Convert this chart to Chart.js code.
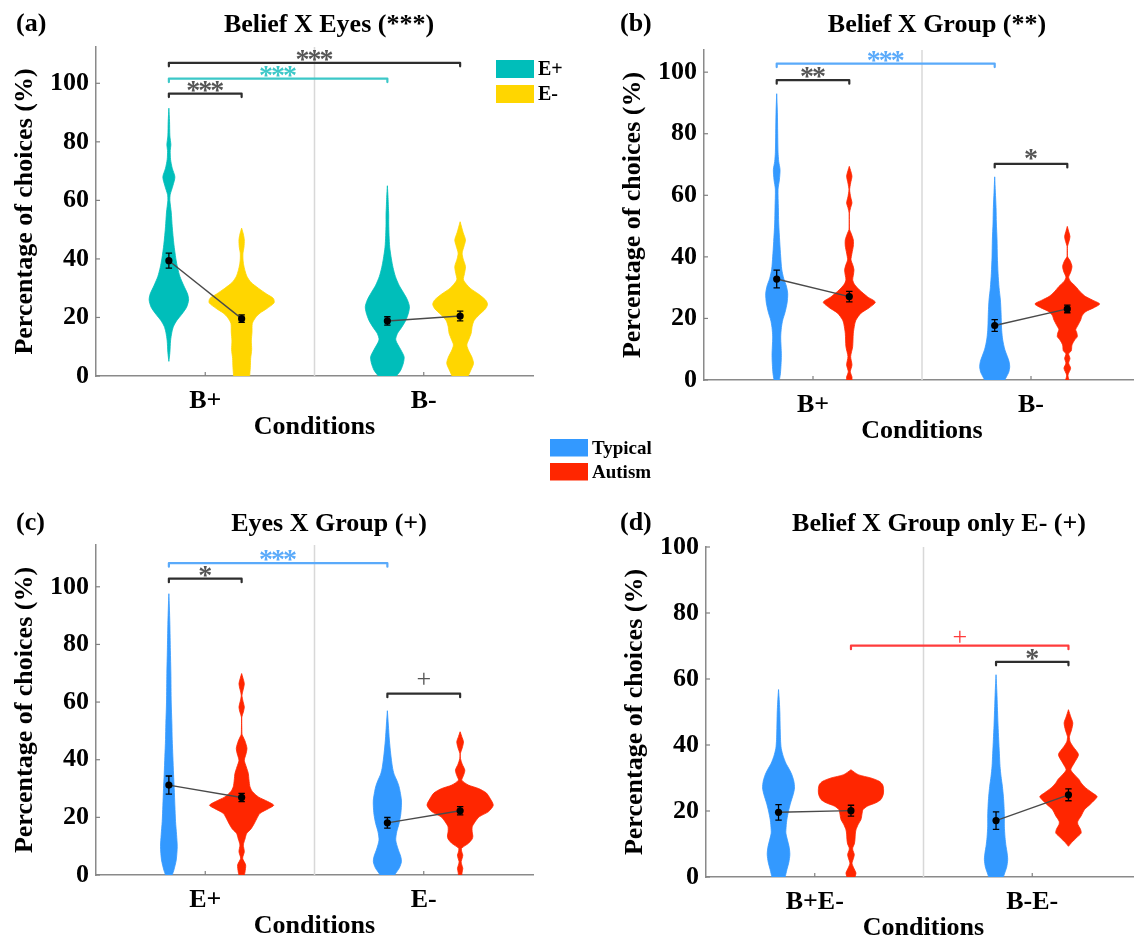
<!DOCTYPE html>
<html>
<head>
<meta charset="utf-8">
<script src="https://cdn.jsdelivr.net/npm/chart.js@4.4.1/dist/chart.umd.min.js"></script>
<style>
html,body{margin:0;padding:0;background:#fff;overflow:hidden;width:1134px;height:939px;}
canvas{position:absolute;left:0;top:0;}
</style>
</head>
<body>
<canvas id="cA" width="1160" height="939"></canvas>
<canvas id="cB" width="1160" height="939"></canvas>
<canvas id="cC" width="1160" height="939"></canvas>
<canvas id="cD" width="1160" height="939"></canvas>
<script>
// ---------------- DATA ----------------
const panelLabels = ['(a)', '(b)', '(c)', '(d)'];
const panelTitles = ['Belief X Eyes (***)', 'Belief X Group (**)', 'Eyes X Group (+)', 'Belief X Group only E- (+)'];
const categoriesA = ['B+', 'B-'];
const categoriesB = ['B+', 'B-'];
const categoriesC = ['E+', 'E-'];
const categoriesD = ['B+E-', 'B-E-'];
const yTickValues = [0, 20, 40, 60, 80, 100];
const xAxisTitle = 'Conditions';
const yAxisTitle = 'Percentage of choices (%)';
const legendEyes = ['E+', 'E-'];
const legendGroup = ['Typical', 'Autism'];

// means and error (SEM) per violin: [cond1-grp1, cond1-grp2, cond2-grp1, cond2-grp2]
const meansA = [39.4, 19.6, 18.8, 20.5];
const semA   = [2.55, 1.3, 1.45, 1.65];
const meansB = [32.8, 27.1, 17.7, 23.1];
const semB   = [2.9, 1.7, 1.9, 1.25];
const meansC = [31.2, 26.9, 18.1, 22.3];
const semC   = [3.15, 1.45, 1.85, 1.45];
const meansD = [19.6, 20.1, 17.1, 24.9];
const semD   = [2.35, 1.65, 2.65, 1.8];

// significance brackets: [fromViolin, toViolin, level (%), label, colourKey]
const bracketsA = [[0, 3, 107, '***', 'k'], [0, 2, 101.6, '***', 'teal'], [0, 1, 96.5, '***', 'k']];
const bracketsB = [[0, 2, 102.8, '***', 'blue'], [0, 1, 97.4, '**', 'k'], [2, 3, 70.2, '*', 'k']];
const bracketsC = [[0, 2, 108.2, '***', 'blue'], [0, 1, 102.8, '*', 'k'], [2, 3, 62.9, '+', 'k']];
const bracketsD = [[1, 3, 70.1, '+', 'red'], [2, 3, 65.2, '*', 'k']];

// violin density profiles: [percentage, relative density]
const violinA_BpEp = [[5,0],[8,0.03],[12,0.05],[15,0.09],[17,0.14],[19,0.24],[21,0.38],[23.5,0.53],[26,0.59],[28,0.56],[31,0.44],[34,0.33],[37,0.26],[40,0.21],[45,0.15],[51,0.1],[56,0.07],[60,0.03],[62,0.04],[65,0.12],[68,0.18],[71,0.1],[74,0.05],[77,0.04],[79,0.06],[82,0.03],[87,0.02],[91.5,0]];
const violinA_BpEm = [[0,0.24],[3,0.26],[6,0.27],[9,0.3],[12,0.29],[15,0.31],[18,0.32],[20,0.42],[21.5,0.55],[23,0.75],[25,0.97],[26.5,0.95],[28,0.75],[30,0.5],[32,0.28],[34,0.16],[36,0.1],[38,0.06],[40,0.04],[42,0.04],[44,0.07],[46.5,0.08],[48.5,0.05],[50.5,0]];
const violinA_BmEp = [[0,0.27],[2,0.4],[4.5,0.48],[6.6,0.5],[9,0.4],[12.3,0.25],[14.5,0.3],[16.5,0.42],[19,0.55],[21.5,0.63],[23.7,0.66],[26,0.6],[28.5,0.48],[31,0.35],[34,0.24],[37,0.17],[40,0.12],[44,0.07],[48,0.05],[52,0.04],[55,0.04],[58,0.03],[61,0.02],[65,0]];
const violinA_BmEm = [[0,0.24],[2,0.32],[4.3,0.4],[6.5,0.35],[8.5,0.26],[10.6,0.2],[12.5,0.26],[14.6,0.33],[17,0.36],[19,0.42],[21,0.58],[23,0.76],[24.5,0.82],[26,0.76],[28,0.55],[30,0.3],[32.8,0.1],[35,0.13],[37.4,0.16],[40,0.09],[42,0.06],[44.5,0.12],[46.5,0.16],[49,0.09],[52.7,0]];

const violinB_BpTy = [[0,0.08],[2,0.11],[5,0.13],[8,0.14],[11,0.13],[14,0.12],[17,0.14],[19.5,0.18],[22,0.25],[25,0.31],[28,0.33],[30.5,0.29],[33,0.21],[36,0.15],[40,0.12],[45,0.09],[51,0.06],[56,0.05],[62,0.04],[65,0.08],[68.3,0.1],[71,0.06],[74,0.04],[80,0.03],[87,0.02],[93,0]];
const violinB_BpAu = [[0,0.08],[1,0.08],[2.7,0.03],[4.9,0.08],[7.6,0.04],[10.8,0.1],[15.2,0.12],[18,0.16],[19.5,0.2],[21.7,0.35],[23.5,0.6],[25.3,0.78],[27,0.55],[29.3,0.3],[31,0.16],[32.5,0.1],[34,0.12],[35.8,0.14],[37.5,0.1],[39,0.05],[41.2,0.08],[43.5,0.12],[45.5,0.12],[47.5,0.06],[48.8,0.01],[50,0.002],[54.2,0.004],[56,0.04],[57.5,0.08],[59.5,0.04],[61.8,0.01],[64,0.04],[66.2,0.08],[68,0.04],[69.4,0]];
const violinB_BmTy = [[0,0.3],[1,0.35],[2.5,0.42],[4.3,0.45],[6,0.43],[7.6,0.38],[10,0.3],[13,0.24],[16,0.21],[18.4,0.2],[22,0.19],[26,0.17],[30,0.13],[34.7,0.1],[40,0.08],[45.5,0.07],[51,0.05],[56,0.04],[61,0.02],[66,0]];
const violinB_BmAu = [[0,0.05],[1.6,0.02],[3.8,0.1],[5.5,0.04],[7,0.08],[8.5,0.04],[9.5,0.12],[11.4,0.14],[13,0.22],[14.1,0.3],[15.5,0.28],[16.3,0.25],[18,0.33],[19.5,0.4],[21,0.45],[22.2,0.55],[23.5,0.8],[24.7,0.97],[26,0.75],[27.1,0.55],[28.5,0.4],[30.4,0.25],[32,0.1],[33.4,0.04],[35,0.1],[36.9,0.14],[38.8,0.08],[40,0.01],[42,0.003],[43.4,0.005],[45,0.05],[46.6,0.08],[48.3,0.04],[49.9,0]];

const violinC_EpTy = [[0,0.1],[1.7,0.15],[5.2,0.22],[9.8,0.25],[14,0.23],[18.5,0.2],[24,0.18],[30,0.16],[35,0.14],[41,0.12],[47,0.1],[52.5,0.09],[60,0.07],[70,0.06],[78,0.045],[87,0.03],[93,0.015],[97.6,0]];
const violinC_EpAu = [[0,0.08],[1,0.1],[3.5,0.12],[5.8,0.03],[8.1,0.08],[10.4,0.05],[12.5,0.1],[14.4,0.15],[16,0.28],[17.9,0.38],[19.5,0.45],[21.4,0.55],[23,0.8],[24.2,0.96],[25.5,0.78],[27.1,0.5],[29,0.32],[30.6,0.25],[33,0.22],[35.2,0.2],[37.5,0.14],[39.8,0.08],[42,0.13],[43.9,0.16],[46.5,0.1],[48.5,0.02],[49,0.01],[52,0.004],[54.8,0.005],[56.5,0.05],[58.3,0.08],[60.3,0.04],[62.4,0.01],[64.5,0.05],[66.4,0.08],[68.3,0.04],[69.9,0]];
const violinC_EmTy = [[0,0.22],[0.6,0.25],[2.5,0.36],[4.6,0.42],[6.4,0.4],[9,0.32],[12.1,0.25],[15,0.28],[17.9,0.35],[21,0.4],[24,0.42],[26,0.42],[29,0.38],[31,0.34],[32.9,0.28],[35,0.2],[37.5,0.15],[42,0.1],[46.8,0.06],[52,0.03],[57,0]];
const violinC_EmAu = [[0,0.05],[1,0.06],[2.3,0.08],[3.5,0.05],[4.6,0.03],[5.8,0.06],[6.9,0.08],[8,0.05],[9.2,0.04],[10.2,0.15],[11,0.25],[12.5,0.36],[13.5,0.38],[15,0.36],[16.7,0.36],[18.5,0.45],[20.2,0.57],[22,0.85],[24.2,0.99],[26.5,0.9],[28.5,0.78],[30,0.55],[31.2,0.25],[32.9,0.05],[34.5,0.1],[36.4,0.14],[38.5,0.06],[40.4,0.01],[42.1,0.005],[44,0.06],[46.2,0.1],[48,0.05],[49.7,0]];

const violinD_BpTy = [[0,0.2],[2.2,0.25],[4.5,0.31],[6.8,0.34],[9,0.32],[11.5,0.26],[13.3,0.22],[15.5,0.23],[17.4,0.25],[20,0.3],[22.4,0.36],[25,0.44],[27,0.48],[29,0.46],[31,0.4],[32.5,0.33],[34.5,0.22],[36.6,0.14],[39,0.08],[41.6,0.06],[45,0.05],[49.7,0.04],[53,0.025],[56.8,0]];
const violinD_BpAu = [[0,0.12],[1.2,0.15],[2.8,0.08],[4.2,0.03],[5.5,0.07],[6.8,0.1],[8,0.06],[8.8,0.05],[10,0.1],[11.3,0.12],[13,0.13],[14.3,0.15],[16,0.22],[17.4,0.3],[19,0.33],[20.4,0.36],[21.5,0.5],[22.5,0.75],[23.5,0.9],[25,0.97],[26.5,0.98],[28,0.95],[29,0.85],[30,0.6],[31,0.22],[32.5,0]];
const violinD_BmTy = [[0,0.22],[1.2,0.26],[3,0.32],[5.3,0.35],[7.5,0.33],[9.3,0.3],[12,0.27],[15.4,0.25],[18.5,0.25],[21.4,0.24],[24.5,0.22],[27.5,0.19],[30.5,0.15],[33.5,0.12],[37.5,0.1],[41.6,0.08],[46,0.06],[51.7,0.04],[56,0.025],[61.3,0]];
const violinD_BmAu = [[9.3,0],[10.5,0.1],[12,0.25],[13.3,0.38],[14.5,0.36],[16,0.28],[16.9,0.28],[18.5,0.38],[20.4,0.48],[22,0.65],[23.5,0.8],[24.4,0.86],[25.5,0.72],[27,0.52],[28.5,0.38],[29.5,0.32],[31,0.18],[32.5,0.07],[34.5,0.17],[37.1,0.3],[39.5,0.14],[41,0.05],[42.6,0.03],[44.5,0.09],[46.7,0.13],[48.5,0.07],[50.7,0]];

// ---------------- STYLE / LAYOUT ----------------
const TEAL = 'rgb(0,190,186)', YELLOW = 'rgb(255,214,0)', BLUE = 'rgb(51,153,255)', RED = 'rgb(255,38,0)';
const BRACKET_COLORS = {
  k:    {line: '#2e2e2e', text: '#555555'},
  teal: {line: 'rgb(60,200,200)', text: 'rgb(60,200,200)'},
  blue: {line: 'rgb(90,170,250)', text: 'rgb(90,170,250)'},
  red:  {line: 'rgb(255,60,60)', text: 'rgb(255,60,60)'}
};
const SERIF = '"Liberation Serif", "Times New Roman", Times, serif';
const VIOLIN_X = [0.667, 1.333, 2.667, 3.333];   // x positions on a 0..4 axis
const WIDTH_PER_DENSITY = 0.306;                  // x-units per density unit
const Y_W = 86.6, X_H = 66.6, CW = 1160, CH = 939;

Chart.defaults.font.family = SERIF;

function violinPoints(profile, cx) {
  const right = profile.map(([v, d]) => ({x: cx + d * WIDTH_PER_DENSITY, y: v}));
  const left = profile.slice().reverse().map(([v, d]) => ({x: cx - d * WIDTH_PER_DENSITY, y: v}));
  return right.concat(left);
}

function centeredGlyph(ctx, ch, x, yc) {
  const m = ctx.measureText(ch);
  const h = m.actualBoundingBoxAscent + m.actualBoundingBoxDescent;
  ctx.fillText(ch, x, yc + m.actualBoundingBoxAscent - h / 2);
}

function drawSigLabel(ctx, label, xc, yc) {
  const chars = label.split('');
  const isStar = chars[0] === '*';
  ctx.font = isStar ? 'bold 28px ' + SERIF : '26px ' + SERIF;
  const step = 12;
  chars.forEach((ch, k) => {
    const x = xc + (k - (chars.length - 1) / 2) * step;
    centeredGlyph(ctx, ch, x, yc);
  });
}

const decor = {
  id: 'decor',
  beforeDatasetsDraw(chart, args, o) {
    const {ctx, chartArea: a, scales: {x}} = chart;
    ctx.save();
    ctx.strokeStyle = '#d8d8d8';
    ctx.lineWidth = 1.5;
    const xd = x.getPixelForValue(2);
    ctx.beginPath(); ctx.moveTo(xd, a.bottom); ctx.lineTo(xd, a.top); ctx.stroke();
    ctx.restore();
  },
  afterDatasetsDraw(chart, args, o) {
    const {ctx, chartArea: a, scales: {x, y}} = chart;
    ctx.save();
    // inward tick marks
    ctx.strokeStyle = '#808080'; ctx.lineWidth = 1.2;
    yTickValues.forEach(v => {
      const py = y.getPixelForValue(v);
      ctx.beginPath(); ctx.moveTo(a.left, py); ctx.lineTo(a.left + 4, py); ctx.stroke();
    });
    [1, 3].forEach(v => {
      const px = x.getPixelForValue(v);
      ctx.beginPath(); ctx.moveTo(px, a.bottom); ctx.lineTo(px, a.bottom - 4); ctx.stroke();
    });
    // error bars
    ctx.strokeStyle = '#000'; ctx.lineWidth = 1.3;
    o.means.forEach((m, i) => {
      const px = x.getPixelForValue(VIOLIN_X[i]);
      const p1 = y.getPixelForValue(m - o.sem[i]);
      const p2 = y.getPixelForValue(m + o.sem[i]);
      ctx.beginPath();
      ctx.moveTo(px, p1); ctx.lineTo(px, p2);
      ctx.moveTo(px - 3.2, p1); ctx.lineTo(px + 3.2, p1);
      ctx.moveTo(px - 3.2, p2); ctx.lineTo(px + 3.2, p2);
      ctx.stroke();
    });
    // brackets
    ctx.lineJoin = 'round'; ctx.lineCap = 'round';
    o.brackets.forEach((b, i) => {
      const [from, to, lvl, label, ck] = b;
      const c = BRACKET_COLORS[ck];
      const x1 = x.getPixelForValue(VIOLIN_X[from]);
      const x2 = x.getPixelForValue(VIOLIN_X[to]);
      const py = y.getPixelForValue(lvl);
      ctx.strokeStyle = c.line; ctx.lineWidth = 2.2;
      ctx.beginPath();
      ctx.moveTo(x1, py + 3.5); ctx.lineTo(x1, py); ctx.lineTo(x2, py); ctx.lineTo(x2, py + 3.5);
      ctx.stroke();
      ctx.fillStyle = c.text;
      ctx.textAlign = 'center'; ctx.textBaseline = 'alphabetic';
      drawSigLabel(ctx, label, (x1 + x2) / 2, py - o.lift[i]);
    });
    ctx.restore();
  },
  afterDraw(chart, args, o) {
    const ctx = chart.ctx;
    ctx.save();
    ctx.fillStyle = '#000';
    ctx.textBaseline = 'alphabetic';
    ctx.font = 'bold 26px ' + SERIF;
    ctx.textAlign = 'center';
    ctx.fillText(o.title, o.titleAt[0], o.titleAt[1]);
    ctx.textAlign = 'left';
    ctx.fillText(o.label, o.labelAt[0], o.labelAt[1]);
    if (o.legend) {
      const L = o.legend;
      L.items.forEach((t, i) => {
        const top = L.y + i * L.step;
        ctx.fillStyle = L.colors[i];
        ctx.fillRect(L.x, top, L.w, L.h);
        ctx.fillStyle = '#000';
        ctx.font = 'bold ' + L.size + 'px ' + SERIF;
        ctx.textBaseline = 'middle';
        ctx.fillText(t, L.x + L.w + 4, top + L.h / 2 + 1);
      });
    }
    ctx.restore();
  }
};

const panels = [
  {id: 'cA', label: panelLabels[0], title: panelTitles[0], cats: categoriesA,
   violins: [violinA_BpEp, violinA_BpEm, violinA_BmEp, violinA_BmEm], colors: [TEAL, YELLOW, TEAL, YELLOW],
   means: meansA, sem: semA, brackets: bracketsA, lift: [7.5, 7.5, 7.5],
   box: {L: 96, R: 533, T: 47, B: 376, ymax: 112.4}, titleAt: [329, 32], labelAt: [16, 31],
   legend: {items: legendEyes, colors: [TEAL, YELLOW], x: 496, y: 60, w: 38, h: 18, step: 25, size: 20}},
  {id: 'cB', label: panelLabels[1], title: panelTitles[1], cats: categoriesB,
   violins: [violinB_BpTy, violinB_BpAu, violinB_BmTy, violinB_BmAu], colors: [BLUE, RED, BLUE, RED],
   means: meansB, sem: semB, brackets: bracketsB, lift: [7.5, 7.5, 9],
   box: {L: 704, R: 1140, T: 50, B: 380, ymax: 107.2}, titleAt: [937, 32], labelAt: [620, 31],
   legend: {items: legendGroup, colors: [BLUE, RED], x: 550, y: 439, w: 38, h: 17.5, step: 24, size: 19}},
  {id: 'cC', label: panelLabels[2], title: panelTitles[2], cats: categoriesC,
   violins: [violinC_EpTy, violinC_EpAu, violinC_EmTy, violinC_EmAu], colors: [BLUE, RED, BLUE, RED],
   means: meansC, sem: semC, brackets: bracketsC, lift: [7.5, 7.5, 15],
   box: {L: 96, R: 533, T: 545, B: 875, ymax: 114.5}, titleAt: [329, 531], labelAt: [16, 530], legend: null},
  {id: 'cD', label: panelLabels[3], title: panelTitles[3], cats: categoriesD,
   violins: [violinD_BpTy, violinD_BpAu, violinD_BmTy, violinD_BmAu], colors: [BLUE, RED, BLUE, RED],
   means: meansD, sem: semD, brackets: bracketsD, lift: [9, 7.5],
   box: {L: 706, R: 1141, T: 547, B: 877, ymax: 100}, titleAt: [939, 531], labelAt: [620, 530], legend: null}
];

panels.forEach(P => {
  const datasets = [];
  datasets.push({
    data: P.means.map((m, i) => ({x: VIOLIN_X[i], y: m})),
    showLine: false, pointRadius: 3.6, pointBackgroundColor: '#000', pointBorderColor: '#000',
    pointBorderWidth: 0, order: 0
  });
  [[0, 1], [2, 3]].forEach(([i, j]) => {
    datasets.push({
      data: [{x: VIOLIN_X[i], y: P.means[i]}, {x: VIOLIN_X[j], y: P.means[j]}],
      showLine: true, borderColor: '#4a4a4a', borderWidth: 1.4, pointRadius: 0, fill: false, order: 1
    });
  });
  P.violins.forEach((prof, i) => {
    datasets.push({
      data: violinPoints(prof, VIOLIN_X[i]),
      showLine: true, fill: 'shape', backgroundColor: P.colors[i], borderColor: P.colors[i],
      borderWidth: 0.8, pointRadius: 0, tension: 0.25, order: 5
    });
  });

  new Chart(document.getElementById(P.id), {
    type: 'scatter',
    data: {datasets},
    options: {
      responsive: false, animation: false, events: [],
      layout: {padding: {left: P.box.L - Y_W, top: P.box.T, right: CW - P.box.R, bottom: CH - P.box.B - X_H}},
      plugins: {
        legend: {display: false}, tooltip: {enabled: false},
        decor: {means: P.means, sem: P.sem, brackets: P.brackets, lift: P.lift, title: P.title,
                label: P.label, titleAt: P.titleAt, labelAt: P.labelAt, legend: P.legend}
      },
      scales: {
        x: {
          type: 'linear', min: 0, max: 4,
          afterFit: s => { s.height = X_H; },
          afterBuildTicks: s => { s.ticks = [{value: 1}, {value: 3}]; },
          ticks: {callback: v => (v === 1 ? P.cats[0] : P.cats[1]), color: '#000', padding: 10,
                  font: {size: 26, weight: 'bold'}, maxRotation: 0, autoSkip: false},
          grid: {display: false, drawTicks: false},
          border: {display: true, color: '#8a8a8a', width: 1.5},
          title: {display: true, text: xAxisTitle, color: '#000', padding: 0, font: {size: 26, weight: 'bold'}}
        },
        y: {
          min: 0, max: P.box.ymax,
          afterFit: s => { s.width = Y_W; },
          afterBuildTicks: s => { s.ticks = yTickValues.map(v => ({value: v})); },
          ticks: {color: '#000', padding: 7, font: {size: 26, weight: 'bold'}},
          grid: {display: false, drawTicks: false},
          border: {display: true, color: '#8a8a8a', width: 1.5},
          title: {display: true, text: yAxisTitle, color: '#000', padding: 0, font: {size: 26, weight: 'bold'}}
        }
      }
    },
    plugins: [decor]
  });
});
</script>
</body>
</html>
